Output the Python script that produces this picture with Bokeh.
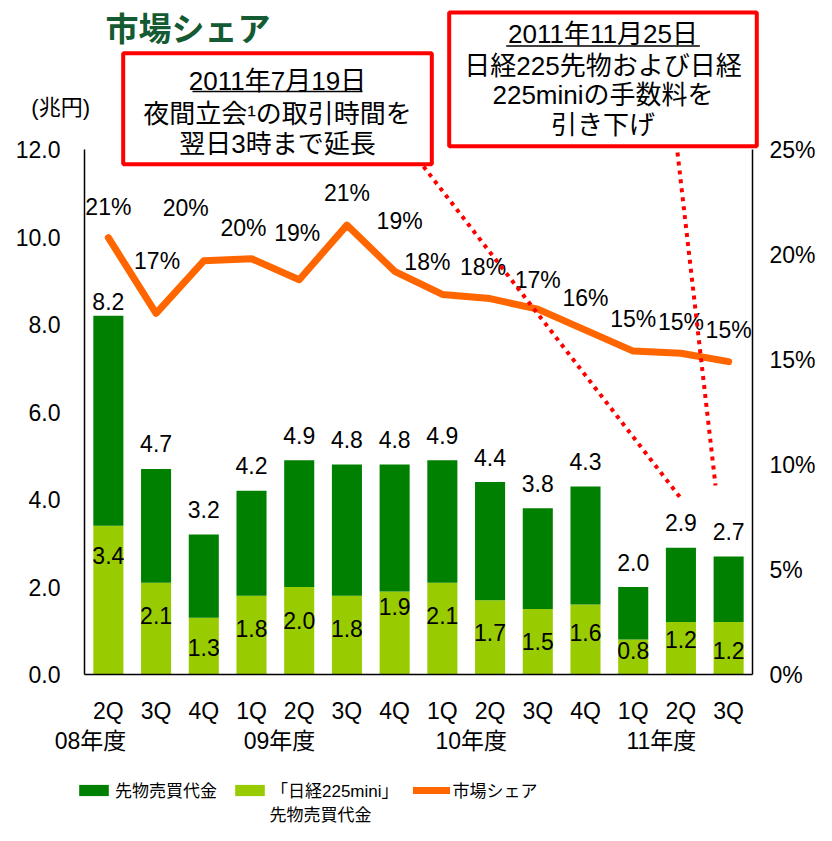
from bokeh.plotting import figure
from bokeh.models import (ColumnDataSource, Range1d, LinearAxis, FixedTicker, Label,
                          BoxAnnotation, Legend, LegendItem)
from bokeh.core.properties import value
from bokeh.embed import file_html
from bokeh.resources import INLINE

# ---------------- data ----------------
quarters = ["2Q", "3Q", "4Q", "1Q", "2Q", "3Q", "4Q", "1Q", "2Q", "3Q", "4Q", "1Q", "2Q", "3Q"]
fiscal_years = ["08年度", "09年度", "10年度", "11年度"]
fiscal_year_pos = [-0.374, 3.587, 7.607, 11.589]
total_trading = [8.2, 4.7, 3.2, 4.2, 4.9, 4.8, 4.8, 4.9, 4.4, 3.8, 4.3, 2.0, 2.9, 2.7]
mini_trading = [3.4, 2.1, 1.3, 1.8, 2.0, 1.8, 1.9, 2.1, 1.7, 1.5, 1.6, 0.8, 1.2, 1.2]
market_share = [20.8, 17.2, 19.7, 19.8, 18.8, 21.4, 19.2, 18.1, 17.9, 17.4, 16.4, 15.4, 15.3, 14.9]
left_ticks = [0, 2, 4, 6, 8, 10, 12]
right_ticks = [0, 5, 10, 15, 20, 25]

# label placement (styling, pixels)
share_dx = [0, 1, -18, -8, -2, 0, 5, -15, -7, 0, 0, 0, 0, 0]
share_dy = [-31, -52, -53, -31, -47, -32, -50, -32, -32, -29, -32, -32, -31, -32]
total_dy = [-14] + [-25] * 13
mini_dy = [30, 33, 30, 33, 33, 33, 15, 33, 32, 33, 28, 11, 17, 28]

NUM_FONT = "Liberation Sans, Noto Sans CJK JP"
JP_FONT = "Liberation Sans, Noto Sans CJK JP"
DARK = "#008000"
LIGHT = "#99CC00"
ORANGE = "#FF6600"
TITLE_GREEN = "#145A32"

W, H = 816, 825
PX_X = 47.714          # pixels per category
PX_Y = 43.75           # pixels per 1 兆円
PX_S = 21.0            # pixels per 1 %
AX_LEFT, AX_RIGHT, AX_BOTTOM = 84, 752, 674   # axis positions (px)

x_start = -0.5 - AX_LEFT / PX_X
x_end = x_start + W / PX_X
y_start = -(H - AX_BOTTOM) / PX_Y
y_end = AX_BOTTOM / PX_Y
s_start = -(H - AX_BOTTOM) / PX_S
s_end = AX_BOTTOM / PX_S

idx = list(range(len(quarters)))
src = ColumnDataSource(dict(
    x=idx,
    total=total_trading,
    mini=mini_trading,
    share=market_share,
    total_txt=[f"{v:.1f}" for v in total_trading],
    mini_txt=[f"{v:.1f}" for v in mini_trading],
    share_txt=[f"{round(v)}%" for v in market_share],
    share_dx=share_dx, share_dy=share_dy, total_dy=total_dy, mini_dy=mini_dy,
))

p = figure(width=W, height=H, output_backend="svg", toolbar_location=None,
           x_range=Range1d(x_start, x_end), y_range=Range1d(y_start, y_end))
p.min_border = 0
p.extra_y_ranges = {"share": Range1d(s_start, s_end)}
p.outline_line_color = None
p.xgrid.visible = False
p.ygrid.visible = False
p.background_fill_color = "white"
p.border_fill_color = "white"

# axes (drawn at fixed data locations)
xa = p.xaxis[0]
xa.ticker = FixedTicker(ticks=idx)
xa.major_label_overrides = {i: q for i, q in enumerate(quarters)}
xa.fixed_location = 0
xa.bounds = (-0.5, 13.5)
ya = p.yaxis[0]
ya.ticker = FixedTicker(ticks=left_ticks)
ya.major_label_overrides = {t: f"{t:.1f}" for t in left_ticks}
ya.bounds = (0, 12)
ya.fixed_location = -0.5
ra = LinearAxis(y_range_name="share", ticker=FixedTicker(ticks=right_ticks))
ra.major_label_overrides = {t: f"{t}%" for t in right_ticks}
ra.bounds = (0, 25)
ra.fixed_location = 13.5
p.add_layout(ra, "right")
for ax in (xa, ya, ra):
    ax.major_tick_line_color = None
    ax.minor_tick_line_color = None
    ax.major_tick_out = 0
    ax.major_tick_in = 0
    ax.minor_tick_out = 0
    ax.minor_tick_in = 0
    ax.axis_line_color = "#000000"
    ax.axis_line_width = 1.5
    ax.major_label_text_font = NUM_FONT
    ax.major_label_text_font_size = "23px"
    ax.major_label_text_color = "#000000"
xa.major_label_standoff = 23
ya.major_label_standoff = 24
ra.major_label_standoff = 17

# bars
light = p.vbar(x="x", bottom=0, top="mini", width=0.63, source=src, fill_color=LIGHT, line_color=None)
dark = p.vbar(x="x", bottom="mini", top="total", width=0.63, source=src, fill_color=DARK, line_color=None)

# share line
ln = p.line(x="x", y="share", source=src, y_range_name="share", line_color=ORANGE, line_width=7,
            line_join="round", line_cap="round")

# data labels
p.text(x="x", y="total", text="total_txt", source=src, y_offset="total_dy", text_align="center",
       text_baseline="middle", text_font=value(NUM_FONT), text_font_size="23px", text_color="#000000")
p.text(x="x", y="mini", text="mini_txt", source=src, y_offset="mini_dy", text_align="center",
       text_baseline="middle", text_font=value(NUM_FONT), text_font_size="23px", text_color="#000000")
p.text(x="x", y="share", text="share_txt", source=src, y_range_name="share", x_offset="share_dx",
       y_offset="share_dy", text_align="center", text_baseline="middle", text_font=value(NUM_FONT),
       text_font_size="23px", text_color="#000000")

# fiscal year labels below quarter labels
for fy, xp in zip(fiscal_years, fiscal_year_pos):
    p.add_layout(Label(x=xp, y=-1.509, text=fy, text_align="center", text_baseline="middle",
                       text_font=JP_FONT, text_font_size="23px", text_color="#000000"))

# title and unit
p.add_layout(Label(x=-0.06, y=14.80, text="市場シェア", text_align="left", text_baseline="middle",
                   text_font="Noto Sans CJK JP", text_font_style="bold", text_font_size="33px",
                   text_color=TITLE_GREEN))
p.add_layout(Label(x=-1.0, y=12.967, text="(兆円)", text_align="center", text_baseline="middle",
                   text_font=JP_FONT, text_font_size="22px", text_color="#000000"))

# annotation boxes
p.add_layout(BoxAnnotation(left=0.311, right=6.779, top=14.201, bottom=11.664,
                           fill_color=None, line_color="#FF0000", line_alpha=1.0, line_width=4))
p.add_layout(BoxAnnotation(left=7.143, right=13.590, top=15.131, bottom=12.075,
                           fill_color=None, line_color="#FF0000", line_alpha=1.0, line_width=4))
box1_lines = ["2011年7月19日", "夜間立会¹の取引時間を", "翌日3時まで延長"]
box1_y = [13.577, 12.816, 12.130]
box2_lines = ["2011年11月25日", "日経225先物および日経", "225miniの手数料を", "引き下げ"]
box2_y = [14.645, 13.92, 13.25, 12.549]
for t, yy in zip(box1_lines, box1_y):
    p.add_layout(Label(x=3.545, y=yy, text=t, text_align="center", text_baseline="middle",
                       text_font=JP_FONT, text_font_size="26px", text_color="#000000"))
for t, yy in zip(box2_lines, box2_y):
    p.add_layout(Label(x=10.367, y=yy, text=t, text_align="center", text_baseline="middle",
                       text_font=JP_FONT, text_font_size="26px", text_color="#000000"))
# underlines of the dates
p.segment(x0=[1.763, 8.338], y0=[13.326, 14.366], x1=[5.326, 12.396], y1=[13.326, 14.366],
          line_color="#000000", line_width=1.5)

# dotted pointer lines
p.segment(x0=[6.605, 11.928], y0=[11.611, 11.931], x1=[12.033, 12.725], y1=[3.977, 4.32],
          line_color="#FF0000", line_width=4, line_dash="4 5")

# legend
legend = Legend(items=[
    LegendItem(label="先物売買代金", renderers=[dark]),
    LegendItem(label="「日経225mini」", renderers=[light]),
    LegendItem(label="市場シェア", renderers=[ln]),
], orientation="horizontal", location=(75, 23))
legend.label_text_font = JP_FONT
legend.label_text_font_size = "17px"
legend.label_text_color = "#000000"
legend.glyph_width = 37
legend.glyph_height = 14
legend.label_standoff = 3
legend.spacing = 14
legend.padding = 0
legend.margin = 0
legend.border_line_color = None
legend.background_fill_alpha = 0
p.add_layout(legend, "center")
p.add_layout(Label(x=4.446, y=-3.223, text="先物売買代金", text_align="center", text_baseline="middle",
                   text_font=JP_FONT, text_font_size="17px", text_color="#000000"))

open("out.html", "w").write(file_html(p, INLINE))
